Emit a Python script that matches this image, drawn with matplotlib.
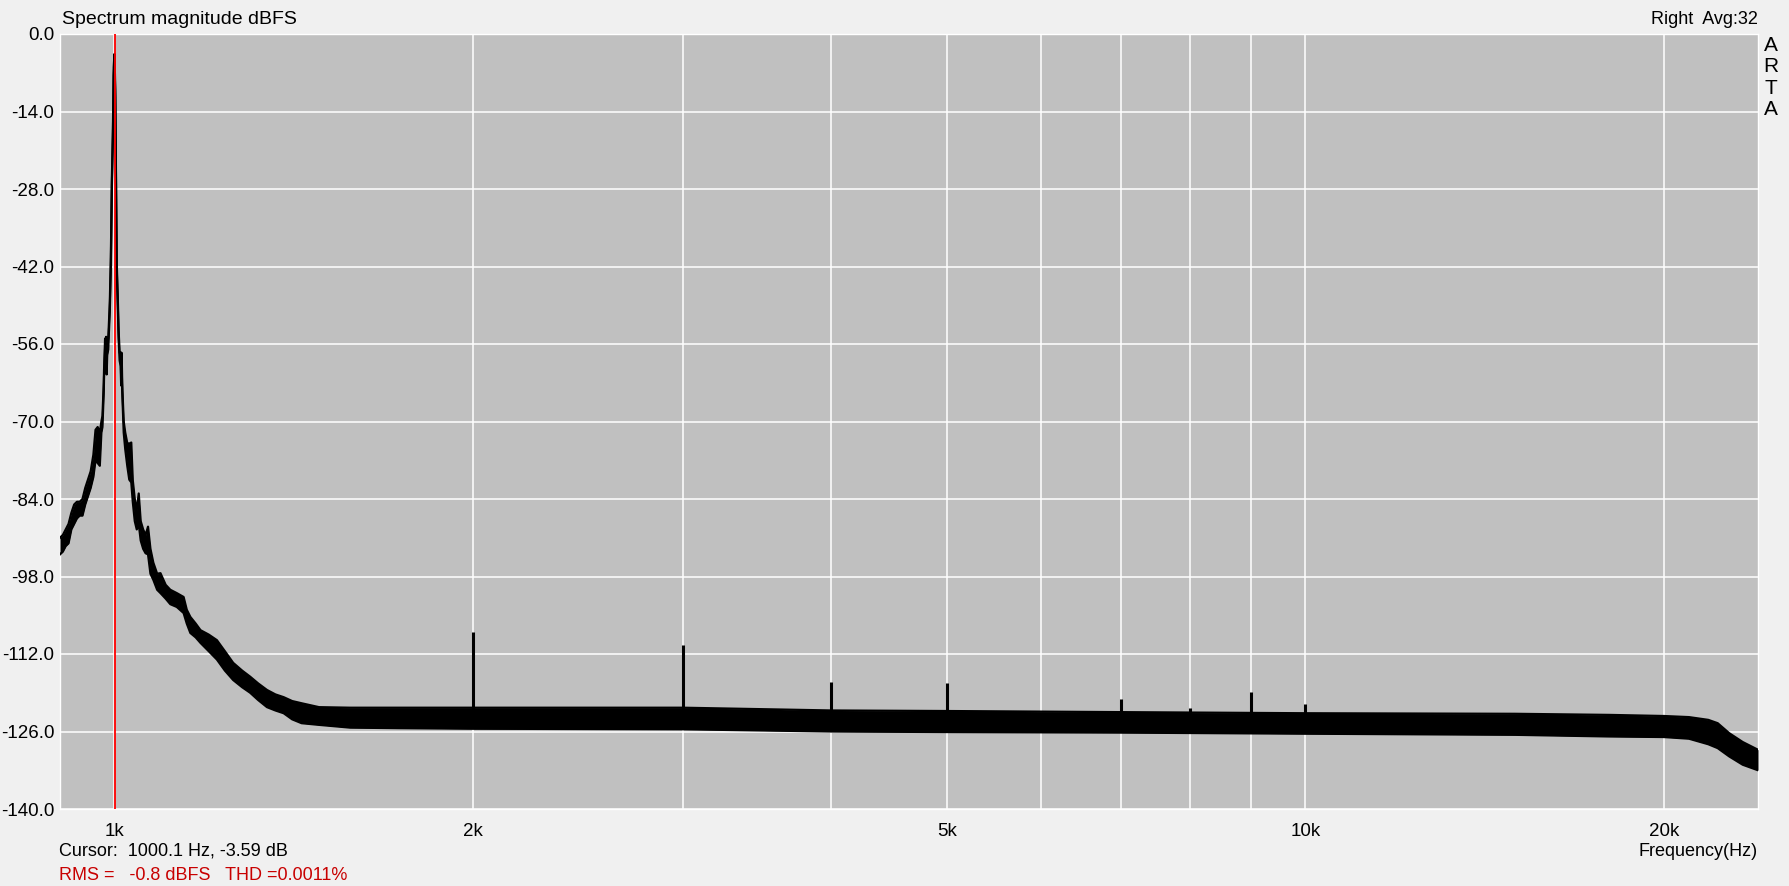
import numpy as np
import matplotlib
matplotlib.use('Agg')
import matplotlib.pyplot as plt
from matplotlib.ticker import FixedLocator, NullFormatter

# spectrum: frequency (Hz), upper and lower edge of the trace (dBFS)
freq = [900, 905, 910, 915, 920, 925, 930, 935, 940, 945, 950, 955, 960, 964, 968, 972, 975,
        977, 979.5, 980, 982, 983, 984, 985, 986, 988, 989, 991, 993, 995, 997, 998.5, 1000,
        1001.5, 1003, 1004.5, 1006.5, 1008, 1010, 1012, 1013, 1014, 1015, 1016, 1018,
        1021, 1025, 1029, 1033, 1036, 1040, 1044, 1048, 1052, 1057, 1062, 1067, 1072, 1078,
        1086, 1093, 1104, 1114, 1128, 1143, 1150, 1158, 1170, 1181, 1200, 1219, 1238, 1258,
        1280, 1300, 1320, 1343, 1365, 1387, 1410, 1436, 1485, 1577, 1737, 2000, 3000, 4000,
        5000, 7000, 10000, 15000, 18000, 20000, 21000, 21800, 22200, 22700, 23300, 24000]
upper = [-91, -90.5, -89.5, -88.5, -86.5, -85, -84.5, -84.5, -84, -82, -80.5, -79, -76, -71.5, -71, -72, -70,
         -69, -63, -60.7, -55, -57, -54.7, -60, -56, -55, -52.9, -48.4, -40.3, -26, -17, -6, -3.6,
         -10, -26.7, -41.7, -48, -53.5, -57.6, -57.5, -62, -57.6, -63, -65.5, -70,
         -72, -73.9, -74, -73.8, -80.6, -84, -86, -83, -88, -89.5, -90.5, -89, -93, -95.5,
         -97.5, -97.4, -99.5, -100.4, -101, -101.7, -104, -105.3, -106.5, -107.7, -108.5, -109.5, -111.5, -113.6,
         -115, -116.1, -117.3, -118.5, -119.3, -119.8, -120.5, -120.9, -121.6, -121.7, -121.7, -121.7, -121.7, -122.2,
         -122.3, -122.5, -122.7, -122.8, -123, -123.2, -123.4, -123.9, -124.5, -126.3, -127.9, -129.3]
lower = [-94, -93.5, -92.5, -92, -89.5, -88.5, -87.5, -87, -87, -85, -83.5, -82, -80, -77, -77.5, -78, -72,
         -71, -64.5, -62, -57, -59, -56.5, -61.5, -58, -57, -54.5, -50, -42, -27.5, -18.5, -7.5, -5,
         -11.5, -28, -43, -49.5, -55, -59, -60, -63.5, -60, -64.5, -67, -72,
         -75, -78, -80.5, -81, -84.5, -88, -89.5, -88.5, -91.5, -93, -93.8, -94, -97.5, -98.6,
         -100.4, -101, -102, -103, -103.5, -104.6, -106.5, -108.2, -109, -110, -111.5, -113, -115, -116.7,
         -118, -119, -120.3, -121.6, -122.2, -122.7, -123.8, -124.5, -124.8, -125.3, -125.4, -125.5, -125.6, -126,
         -126.1, -126.2, -126.4, -126.6, -126.9, -127, -127.3, -128.3, -129, -130.5, -132, -133]

# harmonic lines above the noise floor
harm_freq = [2000, 3000, 4000, 5000, 7000, 8000, 9000, 10000]
harm_top = [-108.1, -110.4, -117.1, -117.3, -120.1, -121.7, -118.9, -121.0]
noise_floor = -123.5

cursor_freq = 1000.1

major_ticks = [1000, 2000, 5000, 10000, 20000]
major_labels = ['1k', '2k', '5k', '10k', '20k']
minor_ticks = [3000, 4000, 6000, 7000, 8000, 9000]
y_ticks = np.arange(0, -141, -14)

plt.rcParams['font.family'] = ['Liberation Sans', 'DejaVu Sans']

fig = plt.figure(figsize=(17.89, 8.86), dpi=100, facecolor='#f0f0f0')
W, H = 1789, 886
ax = fig.add_axes([60 / W, 1 - 809 / H, (1758 - 60) / W, (809 - 34) / H])
ax.set_facecolor('#c0c0c0')

ax.fill_between(freq, lower, upper, color='black', lw=0, zorder=3)
ax.plot(freq, upper, color='black', lw=1.6, zorder=3)
ax.plot(freq, lower, color='black', lw=1.6, zorder=3)
ax.vlines(harm_freq, noise_floor, harm_top, color='black', lw=2.2, zorder=3)
ax.axvline(cursor_freq, color='red', lw=1.3, zorder=4)

ax.set_xscale('log')
ax.set_xlim(900, 24000)
ax.set_ylim(-140, 0)
ax.xaxis.set_major_locator(FixedLocator(major_ticks))
ax.set_xticklabels(major_labels)
ax.xaxis.set_minor_locator(FixedLocator(minor_ticks))
ax.xaxis.set_minor_formatter(NullFormatter())
ax.set_yticks(y_ticks)
ax.set_yticklabels(['%.1f' % v for v in y_ticks])
ax.grid(True, which='both', color='white', lw=1.1, zorder=1)
ax.set_axisbelow(True)
ax.tick_params(which='both', length=0, labelsize=13.5)
ax.tick_params(axis='x', pad=10)
ax.tick_params(axis='y', pad=4)
for s in ax.spines.values():
    s.set_color('white')
    s.set_linewidth(1)

fig.text(62 / W, 1 - 19.5 / H, 'Spectrum magnitude dBFS', fontsize=14, va='center', ha='left')
fig.text(1758 / W, 1 - 19.5 / H, 'Right  Avg:32', fontsize=13, va='center', ha='right')
fig.text(1771 / W, 1 - 36 / H, 'A\nR\nT\nA', fontsize=15, va='top', ha='center', linespacing=1.16)
fig.text(59 / W, 1 - 851 / H, 'Cursor:  1000.1 Hz, -3.59 dB', fontsize=13, va='center', ha='left')
fig.text(59 / W, 1 - 875 / H, 'RMS =   -0.8 dBFS   THD =0.0011%', fontsize=13, va='center',
         ha='left', color='#c80000')
fig.text(1758 / W, 1 - 851 / H, 'Frequency(Hz)', fontsize=13, va='center', ha='right')

fig.savefig('out.png', dpi=100, facecolor=fig.get_facecolor())
